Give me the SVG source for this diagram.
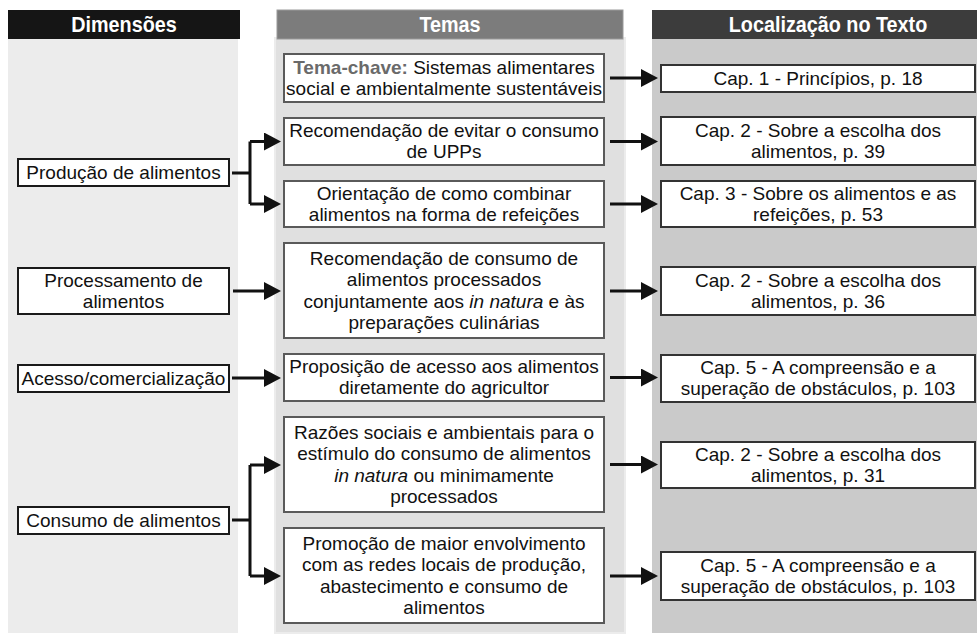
<svg xmlns="http://www.w3.org/2000/svg" width="977" height="635" viewBox="0 0 977 635">
<defs>
<style>
.t{font-family:"Liberation Sans",Arial,sans-serif;font-size:19px;fill:#111;text-anchor:middle}
.h{font-family:"Liberation Sans",Arial,sans-serif;font-size:22px;font-weight:bold;fill:#fff;text-anchor:middle}
.lb{fill:#fff;stroke:#1a1a1a;stroke-width:2}
.mb{fill:#fff;stroke:#5a5a5a;stroke-width:2}
.rb{fill:#fff;stroke:#333;stroke-width:2}
.c{fill:none;stroke:#111;stroke-width:3}
.k{font-weight:bold;fill:#6a6a6a}
</style>
<marker id="ah" markerUnits="userSpaceOnUse" markerWidth="17" markerHeight="18" refX="2" refY="9" orient="auto">
<path d="M0,0 L17,9 L0,18 Z" fill="#111"/>
</marker>
</defs>
<rect x="0" y="0" width="977" height="635" fill="#fff"/>
<g id="columns">
<rect x="8" y="38" width="230" height="595" fill="#ececec"/>
<rect x="275" y="38" width="350" height="595" fill="#e0e0e0" stroke="#ececec" stroke-width="2"/>
<rect x="652" y="38" width="325" height="595" fill="#cacaca"/>
</g>
<g id="headers">
<rect x="8" y="10" width="232" height="29" fill="#151515"/>
<text class="h" transform="translate(124,32) scale(0.9,1)">Dimensões</text>
<rect x="277" y="10" width="346" height="29" fill="#7c7c7c" stroke="#9a9a9a" stroke-width="1"/>
<text class="h" transform="translate(450,32) scale(0.9,1)">Temas</text>
<rect x="652" y="10" width="325" height="29" fill="#3c3c3c"/>
<text class="h" transform="translate(828,32) scale(0.9,1)">Localização no Texto</text>
</g>
<g id="connectors">
<path class="c" d="M232,173 H250 M250,141.5 V204"/>
<path class="c" d="M250,141.5 H266" marker-end="url(#ah)"/>
<path class="c" d="M250,204 H266" marker-end="url(#ah)"/>
<path class="c" d="M233,291 H266" marker-end="url(#ah)"/>
<path class="c" d="M232,378 H266" marker-end="url(#ah)"/>
<path class="c" d="M232,520 H250 M250,465 V576"/>
<path class="c" d="M250,465 H266" marker-end="url(#ah)"/>
<path class="c" d="M250,576 H266" marker-end="url(#ah)"/>
<path class="c" d="M610,78 H643" marker-end="url(#ah)"/>
<path class="c" d="M610,141.5 H643" marker-end="url(#ah)"/>
<path class="c" d="M610,204 H643" marker-end="url(#ah)"/>
<path class="c" d="M610,291 H643" marker-end="url(#ah)"/>
<path class="c" d="M610,377.5 H643" marker-end="url(#ah)"/>
<path class="c" d="M610,464.5 H643" marker-end="url(#ah)"/>
<path class="c" d="M610,576 H643" marker-end="url(#ah)"/>
</g>
<g id="dim-producao"><rect class="lb" x="18" y="159" width="211" height="27"/><text class="t" x="123.5" y="179">Produção de alimentos</text></g>
<g id="dim-processamento"><rect class="lb" x="18" y="268" width="211" height="46"/><text class="t" x="123.5" y="287">Processamento de</text><text class="t" x="123.5" y="308">alimentos</text></g>
<g id="dim-acesso"><rect class="lb" x="18" y="365" width="211" height="27"/><text class="t" x="123.5" y="385">Acesso/comercialização</text></g>
<g id="dim-consumo"><rect class="lb" x="18" y="507" width="211" height="27"/><text class="t" x="123.5" y="527">Consumo de alimentos</text></g>

<g id="tema-1"><rect class="mb" x="284" y="54" width="320" height="48"/><text class="t" x="444" y="74"><tspan class="k">Tema-chave:</tspan> Sistemas alimentares</text><text class="t" x="444" y="95">social e ambientalmente sustentáveis</text></g>
<g id="tema-2"><rect class="mb" x="284" y="118" width="320" height="47"/><text class="t" x="444" y="137">Recomendação de evitar o consumo</text><text class="t" x="444" y="158">de UPPs</text></g>
<g id="tema-3"><rect class="mb" x="284" y="181" width="320" height="46"/><text class="t" x="444" y="200">Orientação de como combinar</text><text class="t" x="444" y="221">alimentos na forma de refeições</text></g>
<g id="tema-4"><rect class="mb" x="284" y="243" width="320" height="95"/><text class="t" x="444" y="265">Recomendação de consumo de</text><text class="t" x="444" y="286">alimentos processados</text><text class="t" x="444" y="308">conjuntamente aos <tspan font-style="italic">in natura</tspan> e às</text><text class="t" x="444" y="329">preparações culinárias</text></g>
<g id="tema-5"><rect class="mb" x="284" y="354" width="320" height="47"/><text class="t" x="444" y="373">Proposição de acesso aos alimentos</text><text class="t" x="444" y="394">diretamente do agricultor</text></g>
<g id="tema-6"><rect class="mb" x="284" y="417" width="320" height="95"/><text class="t" x="444" y="439">Razões sociais e ambientais para o</text><text class="t" x="444" y="460">estímulo do consumo de alimentos</text><text class="t" x="444" y="482"><tspan font-style="italic">in natura</tspan> ou minimamente</text><text class="t" x="444" y="503">processados</text></g>
<g id="tema-7"><rect class="mb" x="284" y="528" width="320" height="95"/><text class="t" x="444" y="550">Promoção de maior envolvimento</text><text class="t" x="444" y="571">com as redes locais de produção,</text><text class="t" x="444" y="593">abastecimento e consumo de</text><text class="t" x="444" y="614">alimentos</text></g>

<g id="loc-1"><rect class="rb" x="661" y="65" width="314" height="27"/><text class="t" x="818" y="85">Cap. 1 - Princípios, p. 18</text></g>
<g id="loc-2"><rect class="rb" x="661" y="117" width="314" height="48"/><text class="t" x="818" y="137">Cap. 2 - Sobre a escolha dos</text><text class="t" x="818" y="158">alimentos, p. 39</text></g>
<g id="loc-3"><rect class="rb" x="661" y="181" width="314" height="46"/><text class="t" x="818" y="200">Cap. 3 - Sobre os alimentos e as</text><text class="t" x="818" y="221">refeições, p. 53</text></g>
<g id="loc-4"><rect class="rb" x="661" y="267" width="314" height="48"/><text class="t" x="818" y="287">Cap. 2 - Sobre a escolha dos</text><text class="t" x="818" y="308">alimentos, p. 36</text></g>
<g id="loc-5"><rect class="rb" x="661" y="355" width="314" height="47"/><text class="t" x="818" y="374">Cap. 5 - A compreensão e a</text><text class="t" x="818" y="395">superação de obstáculos, p. 103</text></g>
<g id="loc-6"><rect class="rb" x="661" y="442" width="314" height="46"/><text class="t" x="818" y="461">Cap. 2 - Sobre a escolha dos</text><text class="t" x="818" y="482">alimentos, p. 31</text></g>
<g id="loc-7"><rect class="rb" x="661" y="552" width="314" height="48"/><text class="t" x="818" y="572">Cap. 5 - A compreensão e a</text><text class="t" x="818" y="593">superação de obstáculos, p. 103</text></g>
</svg>
